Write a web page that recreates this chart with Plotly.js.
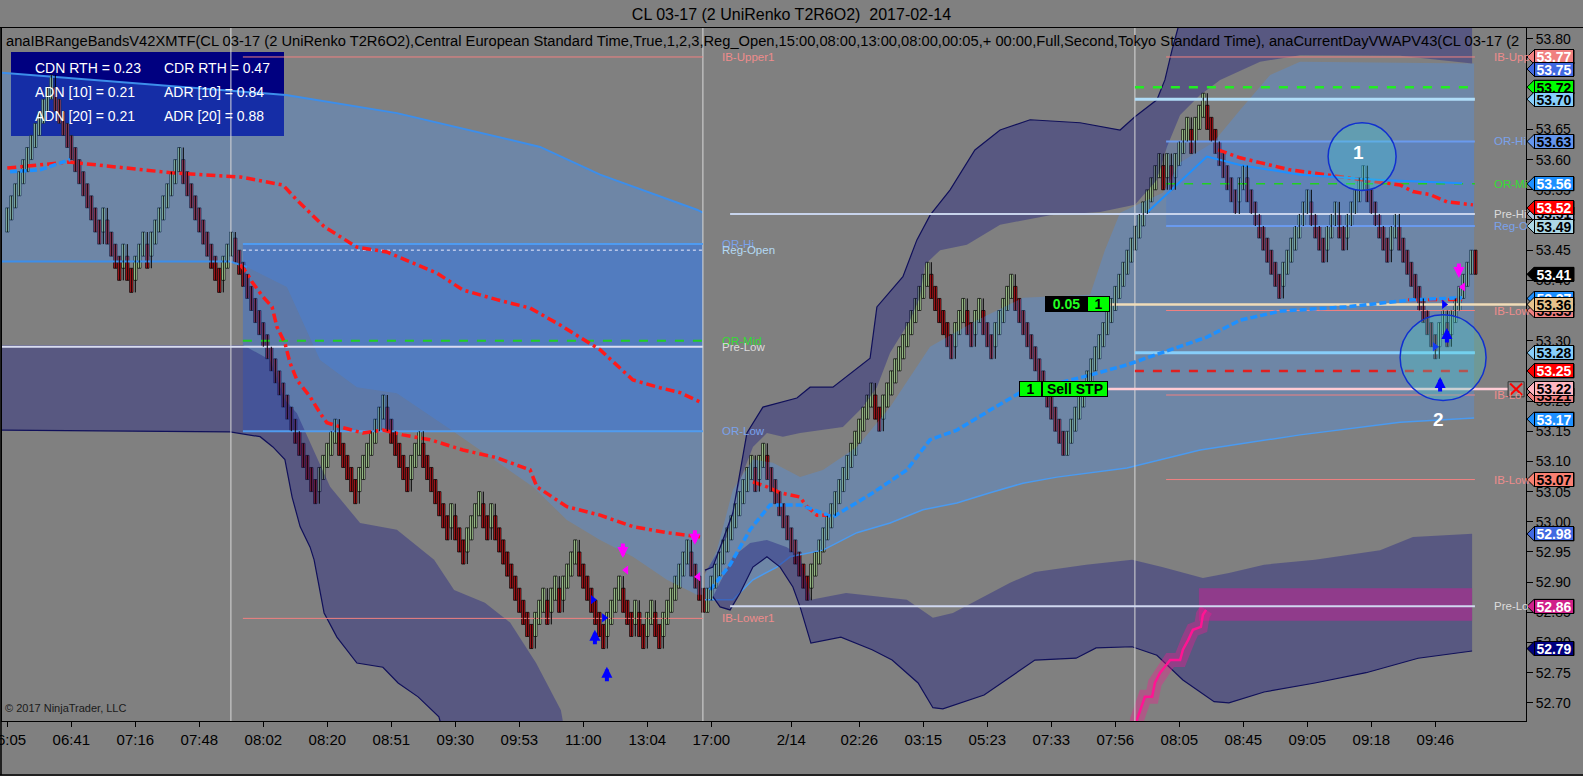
<!DOCTYPE html>
<html><head><meta charset="utf-8">
<script src="https://cdn.plot.ly/plotly-3.0.1.min.js"></script>
<style>html,body{margin:0;padding:0;background:#808080;}#chart{width:1583px;height:776px;}</style>
</head><body><div id="chart"></div>
<script>
// ===================== DATA =====================
// UniRenko T2R6O2 closes, one per bar (bar index = position on the time axis)
const closes = [
53.52,53.54,53.56,53.58,53.60,53.62,53.64,53.66,53.68,53.70,
53.72,53.74,53.68,53.66,53.64,53.62,53.60,53.58,53.56,53.54,
53.52,53.50,53.48,53.46,53.52,53.46,53.44,53.42,53.40,53.46,
53.40,53.38,53.44,53.46,53.48,53.42,53.48,53.50,53.52,53.54,
53.56,53.58,53.60,53.62,53.56,53.54,53.52,53.50,53.48,53.46,
53.44,53.42,53.40,53.38,53.44,53.46,53.48,53.43,53.41,53.39,
53.37,53.35,53.33,53.31,53.29,53.27,53.25,53.23,53.21,53.19,
53.17,53.15,53.13,53.11,53.09,53.07,53.05,53.03,53.09,53.11,
53.13,53.15,53.17,53.11,53.09,53.07,53.05,53.03,53.09,53.11,
53.13,53.15,53.17,53.19,53.21,53.15,53.13,53.11,53.09,53.07,
53.05,53.11,53.13,53.15,53.09,53.07,53.05,53.03,53.01,52.99,
52.97,53.03,52.97,52.95,52.93,52.99,53.01,53.03,53.05,52.99,
52.97,53.03,52.97,52.95,52.93,52.91,52.89,52.87,52.85,52.83,
52.81,52.79,52.85,52.87,52.89,52.83,52.89,52.91,52.85,52.91,
52.93,52.95,52.97,52.91,52.89,52.87,52.85,52.83,52.81,52.79,
52.85,52.87,52.89,52.91,52.85,52.83,52.81,52.87,52.81,52.79,
52.85,52.87,52.81,52.79,52.85,52.87,52.89,52.91,52.93,52.95,
52.97,52.91,52.89,52.87,52.85,52.89,52.91,52.93,52.95,52.97,
52.99,53.01,53.03,53.05,53.07,53.09,53.11,53.05,53.11,53.13,
53.07,53.05,53.03,53.01,52.99,52.97,52.95,52.93,52.91,52.89,
52.87,52.93,52.95,52.97,52.99,53.01,53.03,53.05,53.07,53.09,
53.11,53.13,53.15,53.17,53.19,53.21,53.23,53.17,53.15,53.21,
53.23,53.25,53.27,53.29,53.31,53.33,53.35,53.37,53.39,53.41,
53.43,53.37,53.35,53.33,53.31,53.29,53.27,53.33,53.35,53.37,
53.31,53.29,53.35,53.37,53.31,53.29,53.27,53.33,53.35,53.37,
53.39,53.41,53.35,53.33,53.31,53.29,53.27,53.25,53.23,53.21,
53.19,53.17,53.15,53.13,53.11,53.15,53.17,53.19,53.21,53.23,
53.25,53.27,53.29,53.31,53.33,53.35,53.37,53.39,53.41,53.43,
53.45,53.47,53.49,53.51,53.53,53.55,53.57,53.59,53.61,53.55,
53.61,53.55,53.61,53.63,53.65,53.67,53.61,53.67,53.69,53.71,
53.65,53.63,53.61,53.59,53.57,53.55,53.53,53.51,53.57,53.59,
53.53,53.51,53.49,53.47,53.45,53.43,53.41,53.39,53.37,53.43,
53.45,53.47,53.49,53.51,53.53,53.55,53.49,53.47,53.45,53.43,
53.49,53.51,53.53,53.47,53.45,53.51,53.53,53.55,53.57,53.59,
53.53,53.51,53.49,53.47,53.45,53.43,53.49,53.51,53.45,53.43,
53.41,53.39,53.37,53.35,53.33,53.31,53.29,53.27,53.33,53.35,
53.29,53.35,53.37,53.39,53.41,53.43,53.45,53.41];
const renkoOffset = 0.04; // bar body size of T2R6O2 bricks

const xTickBars   = [0,16,32,48,64,80,96,112,128,144,160,176,196,213,229,245,261,277,293,309,325,341,357];
const xTickLabels = ['06:05','06:41','07:16','07:48','08:02','08:20','08:51','09:30','09:53','11:00','13:04','17:00','2/14','02:26','03:15','05:23','07:33','07:56','08:05','08:45','09:05','09:18','09:46'];
const yTicks = [52.70,52.75,52.80,52.85,52.90,52.95,53.00,53.05,53.10,53.15,53.20,53.25,53.30,53.35,53.40,53.45,53.50,53.55,53.60,53.65,53.70,53.75,53.80];

// VWAP bands (light)
const s1BandUpX = [-1.5,69.7,97.4,133.2,148.2,172.4,173.9];
const s1BandUpY = [53.744,53.707,53.677,53.621,53.575,53.517,53.512];
const s1BandLoX = [-1.5,55.7,59.9,69.9,78.2,87.4,97.4,109.9,131.4,139.9,148.2,156.4,164.9,172.4,173.9];
const s1BandLoY = [53.431,53.431,53.422,53.389,53.268,53.223,53.213,53.157,53.058,53.003,52.970,52.942,52.904,52.879,52.879];
const s2BandUpX = [174.4,177.4,181.4,186.4,191.4,198.2,203.9,212.4,220.7,230.7,242.4,253.9,270.7,274.4,278.2,284.9,288.9,293.2,301.4,308.2,315.7,323.2,366.7];
const s2BandUpY = [52.912,52.953,53.053,53.103,53.098,53.074,53.086,53.124,53.190,53.290,53.334,53.371,53.376,53.450,53.512,53.533,53.545,53.595,53.628,53.682,53.740,53.762,53.759];
const s2BandLoX = [174.4,181.4,186.4,192.4,195.7,203.9,212.4,220.7,228.9,237.4,245.7,253.9,262.4,270.7,279.9,298.2,323.2,348.2,366.7];
const s2BandLoY = [52.871,52.871,52.904,52.925,52.942,52.953,52.982,52.998,53.020,53.031,53.048,53.064,53.074,53.081,53.089,53.119,53.144,53.165,53.172];

// IB range bands (dark)
const s1LowIBTopX = [-1.5,58.9,65.7,69.4,72.4,80.7,88.2,97.4,106.7,111.7,119.4,125.7,132.2,138.4,139.7];
const s1LowIBTopY = [53.293,53.293,53.268,53.202,53.180,53.058,52.998,52.987,52.937,52.887,52.866,52.833,52.766,52.688,52.639];
const s1LowIBBotX = [-1.5,55.7,63.2,66.4,69.4,71.2,73.2,75.7,76.7,79.2,82.4,87.4,93.9,97.7,102.7,107.9,109.4];
const s1LowIBBotY = [53.152,53.149,53.141,53.124,53.103,53.041,52.992,52.958,52.937,52.849,52.809,52.766,52.759,52.733,52.710,52.677,52.639];
const s2UpIBTopX = [174.4,176.4,181.4,184.9,188.9,197.4,200.7,206.4,215.7,217.4,223.9,227.4,230.7,235.7,241.9,248.2,255.7,268.2,278.2,281.9,287.4,289.4,291.2,293.2,366.2];
const s2UpIBTopY = [52.920,52.925,53.015,53.147,53.190,53.205,53.223,53.223,53.271,53.356,53.406,53.467,53.508,53.550,53.616,53.649,53.666,53.661,53.649,53.671,53.699,53.732,53.782,53.831,53.831];
const s2UpIBBotX = [174.4,179.9,183.2,186.4,189.9,193.9,198.2,208.9,213.9,217.4,220.7,225.7,228.2,229.4,233.2,239.9,248.2,260.7,273.2,281.9,287.4,289.9,293.2,298.2,303.2,313.2,323.2,348.2,366.2];
const s2UpIBBotY = [52.915,52.975,53.069,53.124,53.147,53.141,53.147,53.157,53.190,53.223,53.280,53.334,53.373,53.426,53.450,53.459,53.492,53.508,53.513,53.525,53.566,53.621,53.674,53.707,53.732,53.762,53.773,53.772,53.759];
const s2LowIBTopX = [176.4,181.4,185.7,189.9,194.9,198.2,200.9,209.7,224.9,231.4,236.4,244.2,250.7,256.9,269.7,281.2,288.7,298.9,305.4,314.2,326.9,343.2,348.2,351.4,366.2];
const s2LowIBTopY = [52.876,52.942,52.965,52.970,52.958,52.942,52.871,52.882,52.871,52.841,52.849,52.876,52.899,52.917,52.929,52.937,52.925,52.907,52.915,52.929,52.937,52.953,52.967,52.975,52.980];
const s2LowIBBotX = [176.4,178.2,180.7,183.2,186.4,189.9,193.2,196.4,198.2,200.9,208.4,216.2,221.2,227.7,231.4,233.9,244.2,250.7,256.9,267.2,272.2,281.2,287.4,293.9,301.7,305.4,314.2,326.9,339.7,352.7,366.2];
const s2LowIBBotY = [52.876,52.859,52.854,52.882,52.925,52.942,52.925,52.892,52.859,52.799,52.809,52.788,52.771,52.733,52.692,52.690,52.713,52.743,52.771,52.774,52.791,52.793,52.779,52.738,52.702,52.700,52.718,52.733,52.750,52.774,52.786];

// Opening-range boxes [fromBar, toBar, high, low]
const s1ORBox = [58.9, 173.9, 53.459, 53.152];
const s2ORBox = [289.7, 366.7, 53.63, 53.49];
// Prior-day-low zone
const pinkZone = [297.9, 366.2, 52.890, 52.836];

// Red dash-dot developing lines
const redAX = [0,15.4,41.2,58.4,68.9,72.4,79.2,87.4,94.9,102.4,107.4,113.9,122.4,130.7,138.2,148.2,156.4,163.2,168.2,173.7];
const redAY = [53.586,53.596,53.578,53.571,53.558,53.533,53.489,53.455,53.447,53.426,53.412,53.384,53.368,53.354,53.326,53.285,53.235,53.222,53.214,53.197];
const redBX = [58.2,59.9,61.2,63.9,66.2,67.4,69.4,70.7,72.4,75.7,78.2,79.9,83.9,88.9,93.9,98.9,105.7,113.9,122.4,130.7,132.4,139.9,148.2,156.4,164.9,173.2];
const redBY = [53.426,53.412,53.397,53.373,53.356,53.323,53.296,53.263,53.235,53.207,53.180,53.164,53.156,53.147,53.152,53.144,53.136,53.119,53.106,53.086,53.058,53.025,53.011,52.992,52.982,52.975];
const redB2X = [186.4,189.9,193.2,198.2,199.9,202.4,205.7];
const redB2Y = [53.066,53.058,53.048,53.041,53.025,53.011,53.011];
const redCX = [302.7,308.2,313.2,320.7,326.4,334.9,343.2,348.2,351.4,355.7,359.9,366.4];
const redCY = [53.616,53.603,53.595,53.583,53.578,53.570,53.563,53.558,53.547,53.542,53.530,53.525];
const redDX = [350.2,363.7];
const redDY = [53.368,53.368];

// VWAP lines
const vwap1X = [0.7,8.2,15.7];
const vwap1Y = [53.580,53.583,53.600];
const vwap2X = [175.7,180.7,185.7,190.7,198.2,206.4,216.4,224.9,230.7,237.4,245.7,253.2,270.7,279.9,299.9,308.2,318.2,334.9,351.4,363.7];
const vwap2Y = [52.887,52.929,52.987,53.028,53.028,53.008,53.048,53.086,53.136,53.152,53.185,53.214,53.243,53.260,53.306,53.334,53.349,53.356,53.368,53.371];
const upBand2X = [284.9,299.9,308.2,323.2,343.2,363.7];
const upBand2Y = [53.512,53.605,53.591,53.575,53.566,53.561];

// Developing prior-low staircase
const stairX = [281.9,282.4,284.4,286.2,286.9,288.2,289.4,290.7,293.2,293.9,295.2,296.4,298.4,298.9,299.7];
const stairY = [52.639,52.672,52.710,52.710,52.733,52.750,52.760,52.771,52.771,52.788,52.804,52.821,52.826,52.846,52.854];

// Session separators (bar positions)
const vLineX = [55.9, 173.9, 281.9];

// Horizontal levels
const lvlLabel = ['IB-Upper1','OR-Hi','Reg-Open','OR-Mid','Pre-Low','OR-Low','IB-Lower1','IB-Upp','','','OR-Hi','OR-Mi','Pre-Hi','Reg-O','','IB-Low','','','','IB-Lo','IB-Low','Pre-Lo'];
const lvlPrice = [53.77,53.46,53.45,53.30,53.29,53.15,52.84,53.77,53.72,53.70,53.63,53.56,53.51,53.49,53.36,53.35,53.28,53.25,53.22,53.21,53.07,52.86];
const lvlFrom  = [58.9,58.9,58.9,58.9,-1.5,58.9,58.9,289.7,281.9,281.9,289.7,289.7,180.7,289.7,275.7,289.7,281.9,281.9,275.2,289.7,289.7,180.7];
const lvlTo    = [173.9,173.9,173.9,173.9,173.9,173.9,173.9,366.9,366.9,366.9,366.9,366.9,366.9,366.9,379.7,366.9,366.9,366.9,375.2,366.9,366.9,366.9];

// Right-axis price markers
const tagPrices = [53.77,53.75,53.72,53.70,53.63,53.56,53.51,53.52,53.49,53.41,53.37,53.35,53.36,53.28,53.25,53.21,53.22,53.17,53.07,52.98,52.86,52.79];

// Signals
const blueUpX = [146.9,149.9,358.2,359.9];
const blueUpY = [52.821,52.760,53.240,53.321];
const magDownX = [153.9,171.9,362.9];
const magDownY = [52.940,52.962,53.404];
const blueTriX = [146.4,149.2,356.9,359.2];
const blueTriY = [52.871,52.841,53.290,53.360];
const magTriX = [154.7,172.7,363.9];
const magTriY = [52.920,52.909,53.389];

// Info panel
const infoRows = [['CDN RTH = 0.23','CDR RTH = 0.47'],['ADN [10] = 0.21','ADR [10] = 0.84'],['ADN [20] = 0.21','ADR [20] = 0.88']];

// ===================== BUILD =====================
const FONT = 'Liberation Sans, Arial, sans-serif';
const W=1583, H=776, ML=2, MR=57, MT=28, MB=55;
const PW=W-ML-MR, PH=H-MT-MB;
const fx = px => (px-ML)/PW;
const fy = py => 1-(py-MT)/PH;
const r2 = v => Math.round(v*100)/100;

const bars=[], bodyBase=[], bodyLen=[], bodyCol=[], wickX=[], wickY=[];
for (let i=0;i<closes.length;i++){
  const c=closes[i], prev = i===0 ? c-0.02 : closes[i-1];
  const up = c>prev;
  const o = r2(up ? c-renkoOffset : c+renkoOffset);
  const hi=r2(Math.max(o,c,prev)), lo=r2(Math.min(o,c,prev));
  bars.push(i);
  bodyBase.push(Math.min(o,c)); bodyLen.push(Math.abs(c-o)); bodyCol.push(up?'#C6F2B0':'#C8191F');
  wickX.push(i,i,null); wickY.push(lo,hi,null);
}

const traces=[];
function addLine(x,y,color,width,dash){traces.push({type:'scatter',mode:'lines',x:x,y:y,line:{color:color,width:width,dash:dash||'solid'},hoverinfo:'skip',showlegend:false});}
function addPoly(tx,ty,bx,by,fill){traces.push({type:'scatter',mode:'lines',x:tx.concat(bx.slice().reverse()),y:ty.concat(by.slice().reverse()),fill:'toself',fillcolor:fill,line:{width:0},hoverinfo:'skip',showlegend:false});}
function addRect(b,fill){addPoly([b[0],b[1]],[b[2],b[2]],[b[0],b[1]],[b[3],b[3]],fill);}

const BAND='rgba(70,150,255,0.30)', DARK='rgba(40,40,130,0.45)';
addPoly(s1BandUpX,s1BandUpY,s1BandLoX,s1BandLoY,BAND);
addPoly(s2BandUpX,s2BandUpY,s2BandLoX,s2BandLoY,BAND);
addRect(s1ORBox,'rgba(40,110,230,0.40)');
addRect(s2ORBox,'rgba(60,120,230,0.25)');
addLine(s1BandUpX,s1BandUpY,'#3D8EEA',2);
addLine(s1BandLoX.slice(0,3),s1BandLoY.slice(0,3),'#3D8EEA',2);
addLine(s2BandLoX,s2BandLoY,'#4A9AF0',1.5);
addPoly(s1LowIBTopX,s1LowIBTopY,s1LowIBBotX,s1LowIBBotY,DARK);
addPoly(s2UpIBTopX,s2UpIBTopY,s2UpIBBotX,s2UpIBBotY,DARK);
addPoly(s2LowIBTopX,s2LowIBTopY,s2LowIBBotX,s2LowIBBotY,DARK);
addLine(s1LowIBBotX,s1LowIBBotY,'#10105A',1.2);
addLine(s2UpIBTopX,s2UpIBTopY,'#10105A',1.2);
addLine(s2LowIBBotX,s2LowIBBotY,'#10105A',1.2);
addRect(pinkZone,'rgba(200,30,150,0.5)');
addLine(stairX,stairY,'rgba(255,20,147,0.35)',14);
addLine(stairX,stairY,'#FF1493',2.5);
vLineX.forEach(v=>addLine([v,v],[52.5,54.0],'#D8D8D8',1));

const lvlStyle = [
 ['#F08080',1,'solid'],['#4F9BF0',2,'solid'],['#EEEEFF',1,'dot'],['#20D020',2,'dash'],['#D8DCF0',2,'solid'],['#4F9BF0',2,'solid'],['#F08080',1,'solid'],
 ['#F08080',1,'solid'],['#22EE22',2.5,'dash'],['#B0DDF8',3,'solid'],['#6A9AEE',2,'solid'],['#20D020',1.5,'dash'],['#C8D4EC',2,'solid'],['#6A9AEE',2,'solid'],
 ['#F0DCB8',2.5,'solid'],['#F08080',1,'solid'],['#87CEFA',3,'solid'],['#E02020',2.5,'dash'],['#FFCCD5',2.5,'solid'],['#F08080',1,'solid'],['#F08080',1,'solid'],['#D0D8F0',2,'solid']];
lvlPrice.forEach((p,k)=>addLine([lvlFrom[k],lvlTo[k]],[p,p],lvlStyle[k][0],lvlStyle[k][1],lvlStyle[k][2]));

const RDASH='9px,4px,3px,4px';
addLine(redAX,redAY,'#FF1A1A',3.5,RDASH);
addLine(redBX,redBY,'#FF1A1A',3.5,RDASH);
addLine(redB2X,redB2Y,'#FF1A1A',3.5,RDASH);
addLine(redCX,redCY,'#FF1A1A',3.5,RDASH);
addLine(redDX,redDY,'#FF1A1A',3,RDASH);
addLine(vwap1X,vwap1Y,'#1E90FF',3.5,'7px,3px');
addLine(vwap2X,vwap2Y,'#1E90FF',3.5,'7px,3px');
addLine(upBand2X,upBand2Y,'#1E90FF',2);

// candles: wicks then bodies
traces.push({type:'scatter',mode:'lines',x:wickX,y:wickY,line:{color:'#000',width:1},connectgaps:false,hoverinfo:'skip',showlegend:false});
traces.push({type:'bar',x:bars,y:bodyLen,base:bodyBase,width:0.86,marker:{color:bodyCol,line:{color:'#000',width:0.7}},hoverinfo:'skip',showlegend:false});
traces.push({type:'scatter',mode:'markers',x:blueTriX,y:blueTriY,marker:{symbol:'triangle-right',size:8,color:'#0000FF'},hoverinfo:'skip',showlegend:false});
traces.push({type:'scatter',mode:'markers',x:magTriX,y:magTriY,marker:{symbol:'triangle-left',size:8,color:'#FF00FF'},hoverinfo:'skip',showlegend:false});

// ---------- shapes ----------
const shapes=[];
shapes.push({type:'rect',xref:'paper',yref:'paper',x0:fx(11),x1:fx(284),y0:fy(136),y1:fy(52),fillcolor:'#000080',line:{width:0},layer:'below'});
shapes.push({type:'circle',xref:'x',yref:'y',x0:330.2,x1:347.2,y0:53.549,y1:53.661,fillcolor:'rgba(70,220,210,0.28)',line:{color:'#1030D0',width:1.5},layer:'above'});
shapes.push({type:'circle',xref:'x',yref:'y',x0:348.2,x1:369.7,y0:53.201,y1:53.343,fillcolor:'rgba(70,220,210,0.28)',line:{color:'#1030D0',width:1.5},layer:'above'});
// order-close box
shapes.push({type:'rect',xref:'x',yref:'y',x0:375.2,x1:379.2,y0:53.207,y1:53.232,fillcolor:'#8C8C8C',line:{color:'#333',width:1},layer:'above'});
shapes.push({type:'line',xref:'x',yref:'y',x0:375.7,x1:378.7,y0:53.210,y1:53.229,line:{color:'#FF0000',width:2},layer:'above'});
shapes.push({type:'line',xref:'x',yref:'y',x0:375.7,x1:378.7,y0:53.229,y1:53.210,line:{color:'#FF0000',width:2},layer:'above'});
// frame
shapes.push({type:'line',xref:'paper',yref:'paper',x0:fx(0),x1:fx(1583),y0:fy(27.5),y1:fy(27.5),line:{color:'#000',width:1}});
shapes.push({type:'line',xref:'paper',yref:'paper',x0:fx(1),x1:fx(1),y0:fy(27.5),y1:fy(775),line:{color:'#000',width:1.5}});
shapes.push({type:'line',xref:'paper',yref:'paper',x0:fx(0),x1:fx(1583),y0:fy(775),y1:fy(775),line:{color:'#000',width:1.5}});

const tagStyle = {
 '53.77':['#F08080','#FFFFFF'],'53.75':['#4169E1','#FFFFFF'],'53.72':['#00FF00','#000000'],'53.70':['#87CEFA','#000000'],
 '53.63':['#6495ED','#000000'],'53.56':['#1E90FF','#FFFFFF'],'53.51':['#B0C4DE','#000000'],'53.52':['#FF0000','#FFFFFF'],
 '53.49':['#ADD8E6','#000000'],'53.41':['#000000','#FFFFFF'],'53.37':['#1E90FF','#FFFFFF'],'53.35':['#F08080','#000000'],
 '53.36':['#E6C28C','#000000'],'53.28':['#87CEFA','#000000'],'53.25':['#FF0000','#FFFFFF'],'53.21':['#F08080','#000000'],
 '53.22':['#FFB6C1','#000000'],'53.17':['#1E90FF','#FFFFFF'],'53.07':['#FA8072','#000000'],'52.98':['#4169E1','#FFFFFF'],
 '52.86':['#D0208A','#FFFFFF'],'52.79':['#000080','#FFFFFF']};

const annotations=[];
const tx0=fx(1527), tx1=fx(1534), tx2=fx(1574), hh=0.0115;
tagPrices.forEach(p=>{
  const key=p.toFixed(2), st=tagStyle[key];
  shapes.push({type:'path',xref:'paper',yref:'y',layer:'above',
    path:`M ${tx0},${p} L ${tx1},${p+hh} L ${tx2},${p+hh} L ${tx2},${p-hh} L ${tx1},${p-hh} Z`,
    fillcolor:st[0],line:{color:'#000',width:1}});
});
tagPrices.forEach(p=>{
  const key=p.toFixed(2), st=tagStyle[key];
  annotations.push({xref:'paper',yref:'y',x:tx1,y:p,xanchor:'left',yanchor:'middle',text:key,showarrow:false,
    bgcolor:st[0],bordercolor:'#000',borderwidth:1,borderpad:0,width:38,height:13,
    font:{family:FONT,size:14,color:st[1],weight:'bold'}});
});

// level labels
const lblColor = l => l.startsWith('IB') ? '#EE8C8C' : (l.startsWith('OR-M') ? '#33DD33' : (l.startsWith('Pre') ? '#DCDCDC' : (l==='Reg-Open' ? '#B4DAF4' : '#7AA2EC')));
lvlLabel.forEach((l,k)=>{
  if(!l) return;
  const s1 = lvlTo[k] < 200;
  annotations.push({xref:'x',yref:'y',x:s1?178.2:371.2,y:lvlPrice[k],xanchor:'left',yanchor:'middle',text:l,showarrow:false,
    font:{family:FONT,size:11.5,color:lblColor(l)}});
});

// info panel text
infoRows.forEach((row,r)=>{
  [33,162].forEach((px,c)=>annotations.push({xref:'paper',yref:'paper',x:fx(px),y:fy(68+24*r),xanchor:'left',yanchor:'middle',
    text:row[c],showarrow:false,font:{family:FONT,size:14,color:'#FFFFFF'}}));
});

// indicator caption & copyright
annotations.push({xref:'paper',yref:'paper',x:fx(4),y:fy(41),xanchor:'left',yanchor:'middle',showarrow:false,
  text:'anaIBRangeBandsV42XMTF(CL 03-17 (2 UniRenko T2R6O2),Central European Standard Time,True,1,2,3,Reg_Open,15:00,08:00,13:00,08:00,00:05,+ 00:00,Full,Second,Tokyo Standard Time), anaCurrentDayVWAPV43(CL 03-17 (2',
  font:{family:FONT,size:14.7,color:'#000'}});
annotations.push({xref:'paper',yref:'paper',x:fx(3),y:fy(708),xanchor:'left',yanchor:'middle',showarrow:false,
  text:'© 2017 NinjaTrader, LLC',font:{family:FONT,size:11,color:'#1A1A1A'}});

// order / position labels
function boxLbl(x,y,text,bg,fc,w){annotations.push({xref:'x',yref:'y',x:x,y:y,xanchor:'center',yanchor:'middle',text:text,showarrow:false,
  bgcolor:bg,bordercolor:'#000',borderwidth:1,borderpad:0,width:w,height:14,font:{family:FONT,size:14,color:fc,weight:'bold'}});}
boxLbl(264.8,53.36,'0.05','#000000','#22FF22',41);
boxLbl(272.8,53.36,'1','#00FF00','#000000',21);
boxLbl(255.9,53.22,'1','#00FF00','#000000',21);
boxLbl(266.9,53.22,'Sell STP','#00FF00','#000000',64);

// circle numbers
annotations.push({xref:'x',yref:'y',x:337.7,y:53.611,text:'1',showarrow:false,font:{family:FONT,size:19,color:'#FFFFFF',weight:'bold'}});
annotations.push({xref:'x',yref:'y',x:357.7,y:53.169,text:'2',showarrow:false,font:{family:FONT,size:19,color:'#FFFFFF',weight:'bold'}});

// signal arrows
blueUpX.forEach((x,k)=>annotations.push({xref:'x',yref:'y',x:x,y:blueUpY[k],ax:0,ay:16,text:'',showarrow:true,arrowhead:2,arrowsize:0.55,arrowwidth:4,arrowcolor:'#0000FF',standoff:0,startstandoff:0}));
magDownX.forEach((x,k)=>annotations.push({xref:'x',yref:'y',x:x,y:magDownY[k],ax:0,ay:-16,text:'',showarrow:true,arrowhead:2,arrowsize:0.55,arrowwidth:4,arrowcolor:'#FF00FF',standoff:0,startstandoff:0}));

const layout = {
  width:W,height:H,
  margin:{l:ML,r:MR,t:MT,b:MB,autoexpand:false},
  paper_bgcolor:'#808080',plot_bgcolor:'#808080',
  showlegend:false,barmode:'overlay',
  title:{text:'CL 03-17 (2 UniRenko T2R6O2)  2017-02-14',x:0.5,xref:'container',xanchor:'center',y:1-14/H,yref:'container',yanchor:'middle',font:{family:FONT,size:16,color:'#000'}},
  xaxis:{range:[-1.325,379.675],showgrid:false,zeroline:false,showline:true,mirror:true,linecolor:'#000',linewidth:1,
    ticks:'outside',ticklen:5,tickcolor:'#000',tickvals:xTickBars,ticktext:xTickLabels,ticklabeloverflow:'allow',
    tickfont:{family:FONT,size:15,color:'#000'},fixedrange:true},
  yaxis:{range:[52.670,53.818],side:'right',showgrid:false,zeroline:false,showline:true,mirror:true,linecolor:'#000',linewidth:1,
    ticks:'outside',ticklen:6,tickcolor:'#000',tickvals:yTicks,ticktext:yTicks.map(v=>v.toFixed(2)),
    tickfont:{family:FONT,size:14,color:'#000'},fixedrange:true},
  shapes:shapes,annotations:annotations,hovermode:false
};
Plotly.newPlot('chart',traces,layout,{staticPlot:true,displayModeBar:false});
</script></body></html>
